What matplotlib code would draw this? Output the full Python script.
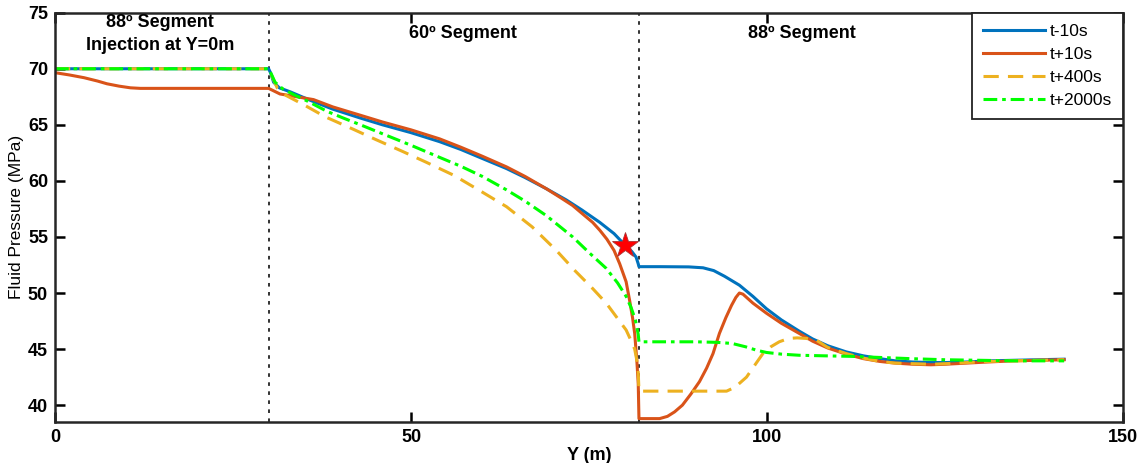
import matplotlib.pyplot as plt

plt.rcParams['font.family'] = ['Liberation Sans', 'DejaVu Sans']

# series: distance along well Y (m) vs fluid pressure (MPa)
x_m10 = [0, 30, 30.3, 30.7, 31.5, 33.0, 35.8, 39, 42.9, 46, 50, 54, 57, 60, 63.4, 66, 69,
         71.8, 74, 76.5, 78.5, 80, 81, 81.6, 81.9, 82.0, 85, 89, 91, 92.5, 94, 96.1, 98,
         99.9, 102, 104.5, 106.4, 108.5, 111.1, 113.5, 115.8, 118, 120.4, 123, 125.1,
         128, 131, 134.5, 138, 141.7]
p_m10 = [70.0, 70.0, 69.6, 68.8, 68.3, 67.95, 67.2, 66.4, 65.6, 65.0, 64.3, 63.5, 62.8,
         62.0, 61.1, 60.3, 59.3, 58.3, 57.4, 56.3, 55.3, 54.3, 53.7, 53.2, 52.6, 52.35,
         52.35, 52.33, 52.25, 52.0, 51.5, 50.7, 49.7, 48.6, 47.6, 46.6, 45.9, 45.3, 44.75,
         44.4, 44.15, 43.95, 43.85, 43.8, 43.8, 43.85, 43.95, 44.0, 44.05, 44.1]

x_p10 = [0, 2, 4.1, 6, 7.3, 9, 10.6, 12, 30, 30.8, 31.6, 33.5, 36.3, 39, 42.9, 46, 50, 54,
         57, 60, 63.4, 66, 69, 71, 72.7, 74, 75.5, 76.5, 77.5, 78.5, 79.3, 80.2, 80.7, 81.1,
         81.4, 81.7, 81.9, 82.0, 84.9, 86, 87, 88.1, 89.3, 90.5, 91.5, 92.4, 93.3, 94.2, 95.0,
         95.6, 96.1, 96.6, 98, 99.9, 102, 104.5, 106.4, 108.5, 111.1, 113.5, 115.8, 118,
         120.4, 123, 125.1, 128, 131, 134.5, 138, 141.7]
p_p10 = [69.65, 69.45, 69.2, 68.9, 68.66, 68.45, 68.3, 68.25, 68.25, 68.0, 67.75, 67.55,
         67.25, 66.6, 65.85, 65.25, 64.55, 63.75, 63.0, 62.2, 61.25, 60.4, 59.3, 58.5, 57.8,
         57.1, 56.3, 55.6, 54.8, 53.8, 52.6, 51.0, 49.3, 47.8, 46.4, 44.0, 41.9, 38.8, 38.8,
         39.0, 39.4, 40.0, 41.0, 42.1, 43.3, 44.6, 46.4, 47.8, 48.9, 49.6, 50.0, 49.9, 49.1,
         48.2, 47.3, 46.4, 45.7, 45.1, 44.55, 44.15, 43.9, 43.75, 43.65, 43.6, 43.65, 43.75,
         43.85, 43.95, 44.0, 44.05]

x_p400 = [0, 30, 30.5, 31.2, 32.5, 34.9, 38, 41.9, 45, 48.9, 52, 56, 60, 63.4, 67, 70.4,
          73, 75.5, 77.4, 78.8, 80.2, 81.0, 81.4, 81.7, 81.9, 82.0, 94.3, 95.5, 97.1, 98.3,
          99.4, 100.5, 101.7, 103, 104.2, 105.5, 106.9, 108.5, 111.1, 113.5, 115.8, 118,
          120.4, 123, 125.1, 128, 131, 134.5, 138, 141.7]
p_p400 = [70.0, 70.0, 69.3, 68.3, 67.6, 66.8, 65.7, 64.6, 63.7, 62.6, 61.7, 60.5, 59.0,
          57.7, 55.9, 53.8, 52.0, 50.4, 49.1, 47.9, 46.7, 45.6, 45.0, 44.0, 42.9, 41.25,
          41.25, 41.6, 42.5, 43.6, 44.6, 45.2, 45.65, 45.95, 46.0, 45.95, 45.8, 45.15, 44.6,
          44.2, 43.9, 43.75, 43.7, 43.65, 43.7, 43.8, 43.9, 43.95, 44.0, 44.05]

x_p2000 = [0, 30, 30.4, 30.9, 32, 33.5, 35.5, 38.2, 40.5, 42.9, 46, 49.9, 54, 57, 60, 63.4,
           66, 69, 72.7, 75, 77.4, 79, 80.2, 80.9, 81.5, 81.9, 82.0, 90, 93, 95.1, 97, 98.5,
           99.9, 102, 104.5, 108, 112, 116, 120, 125, 130, 135, 141.7]
p_p2000 = [70.0, 70.0, 69.5, 68.8, 68.2, 67.7, 67.1, 66.2, 65.6, 65.0, 64.2, 63.2, 62.1,
           61.3, 60.4, 59.2, 58.2, 56.9, 55.0, 53.6, 52.2, 50.9, 49.7, 48.7, 47.6, 46.3,
           45.65, 45.65, 45.6, 45.5, 45.2, 44.9, 44.7, 44.55, 44.45, 44.4, 44.35, 44.25,
           44.15, 44.05, 44.0, 43.95, 43.95]

seg_bounds = [30, 82]
star_x, star_y = 80, 54.3
seg_labels = ['88º Segment\nInjection at Y=0m', '60º Segment', '88º Segment']
seg_label_x = [14.8, 57.3, 104.9]

fig = plt.figure(figsize=(11.45, 4.63), dpi=100)
ax = fig.add_axes([0.048, 0.0886, 0.933, 0.884])

ax.plot(x_m10, p_m10, color='#0072BD', lw=2.2, label='t-10s')
ax.plot(x_p10, p_p10, color='#D95319', lw=2.2, label='t+10s')
ax.plot(x_p400, p_p400, color='#EDB120', lw=2.2, ls=(0, (5, 3)), label='t+400s')
ax.plot(x_p2000, p_p2000, color='#00FF00', lw=2.2, ls=(0, (4.5, 1.6, 1.2, 1.6)),
        label='t+2000s')

for xb in seg_bounds:
    ax.axvline(xb, color='#222222', lw=1.3, ls=(0, (2, 3)), zorder=1)

ax.plot(star_x, star_y, marker='*', ms=19, color='#FF0000', mec='#AA3333', mew=0.6,
        zorder=5)

for lab, lx in zip(seg_labels, seg_label_x):
    ax.text(lx, 73.1, lab, ha='center', va='center', fontsize=13, fontweight='bold',
            linespacing=1.5)

ax.set_xlim(0, 150)
ax.set_ylim(38.5, 75)
ax.set_xticks([0, 50, 100, 150])
ax.set_yticks([40, 45, 50, 55, 60, 65, 70, 75])
ax.tick_params(direction='in', width=1.8, length=7, labelsize=13, top=True, right=True,
               pad=5)
for lab in ax.get_xticklabels() + ax.get_yticklabels():
    lab.set_fontweight('bold')
for sp in ax.spines.values():
    sp.set_linewidth(1.8)
    sp.set_color('#262626')

ax.set_xlabel('Y (m)', fontsize=13, fontweight='bold', labelpad=1)
ax.set_ylabel('Fluid Pressure (MPa)', fontsize=12.5, labelpad=3)

leg = ax.legend(loc='upper right', borderaxespad=0, fontsize=12.5, handlelength=3.6,
                handletextpad=0.25, labelspacing=0.45, borderpad=0.65, fancybox=False,
                framealpha=1)
leg.get_frame().set_edgecolor('#222222')
leg.get_frame().set_linewidth(1.3)

plt.savefig('out.png')
